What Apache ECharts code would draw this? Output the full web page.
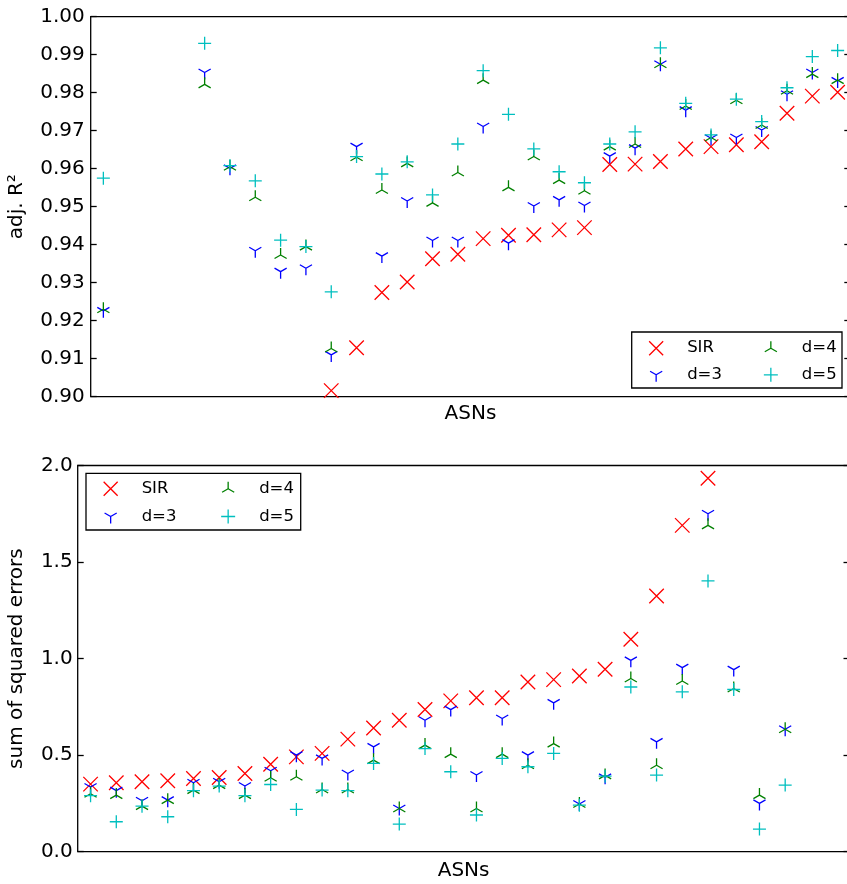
<!DOCTYPE html>
<html><head><meta charset="utf-8">
<script src="https://cdn.jsdelivr.net/npm/echarts@6/dist/echarts.min.js"></script>
<style>html,body{margin:0;padding:0;background:#fff}#c{width:847px;height:884px}</style>
</head><body><div id="c"></div>
<script>
// ---- data ----
const categories = [1,2,3,4,5,6,7,8,9,10,11,12,13,14,15,16,17,18,19,20,21,22,23,24,25,26,27,28,29,30];
const seriesNames = ['SIR', 'd=3', 'd=4', 'd=5'];

// top panel: adj. R² (null = outside the visible range)
const r2SIR = [null,null,null,null,null,null,null,null,null,0.9016,0.9129,0.9274,0.9302,0.9363,0.9375,0.9416,0.9425,0.9426,0.9439,0.9445,0.9611,0.9612,0.9619,0.9652,0.9658,0.9663,0.9671,0.9746,0.9791,0.9801];
const r2D3  = [0.9226,null,null,null,0.9853,0.9601,0.9384,0.9329,0.9338,0.9110,0.9658,0.9370,0.9515,0.9411,0.9411,0.9711,0.9404,0.9502,0.9518,0.9503,0.9633,0.9654,0.9875,0.9754,0.9680,0.9682,0.9702,0.9796,0.9853,0.9831];
const r2D4  = [0.9230,null,null,null,0.9822,0.9605,0.9525,0.9373,0.9395,0.9127,0.9630,0.9544,0.9614,0.9510,0.9590,0.9833,0.9551,0.9632,0.9570,0.9542,0.9658,0.9665,0.9875,0.9765,0.9682,0.9780,0.9715,0.9805,0.9849,0.9833];
const r2D5  = [0.9575,null,null,null,0.9930,0.9608,0.9568,0.9412,0.9395,0.9276,0.9632,0.9586,0.9618,0.9531,0.9665,0.9858,0.9743,0.9652,0.9592,0.9563,0.9665,0.9697,0.9918,0.9772,0.9689,0.9783,0.9724,0.9813,0.9895,0.9911];

// bottom panel: sum of squared errors
const sseSIR = [0.350,0.357,0.362,0.367,0.379,0.384,0.405,0.453,0.491,0.509,0.583,0.641,0.681,0.736,0.781,0.797,0.797,0.879,0.891,0.910,0.945,1.100,1.324,1.690,1.934,null,null,null,null,null];
const sseD3  = [0.335,0.316,0.264,0.267,0.357,0.362,0.340,0.419,0.500,0.483,0.405,0.543,0.224,0.681,0.736,0.397,0.690,0.500,0.771,0.247,0.385,0.991,0.569,0.953,1.750,0.943,0.250,0.634,null,null];
const sseD4  = [0.300,0.293,0.236,0.267,0.319,0.345,0.293,0.383,0.388,0.322,0.322,0.474,0.224,0.552,0.505,0.224,0.505,0.448,0.560,0.247,0.395,0.897,0.448,0.884,1.690,0.845,0.293,0.634,null,null];
const sseD5  = [0.290,0.155,0.236,0.181,0.316,0.340,0.290,0.348,0.219,0.319,0.316,0.457,0.143,0.534,0.414,0.190,0.483,0.440,0.509,0.241,0.391,0.853,0.397,0.828,1.402,0.840,0.117,0.345,null,null];

// axis ticks
const r2Ticks  = [0.90,0.91,0.92,0.93,0.94,0.95,0.96,0.97,0.98,0.99,1.00];
const sseTicks = [0.0,0.5,1.0,1.5,2.0];

// ---- styling ----
const FONT = 'DejaVu Sans';
const colors = {'SIR':'#ff0000','d=3':'#0000ff','d=4':'#008000','d=5':'#00bfbf'};
const symbols = {
  'SIR': 'path://M-1 -1L1 1M-1 1L1 -1',
  'd=3': 'path://M-1 -1M1 1M0 0L0 1M0 0L0.866 -0.5M0 0L-0.866 -0.5',
  'd=4': 'path://M-1 -1M1 1M0 0L0 -1M0 0L0.866 0.5M0 0L-0.866 0.5',
  'd=5': 'path://M-1 0L1 0M0 -1L0 1'
};
const sizes = {'SIR':14.5,'d=3':14,'d=4':14,'d=5':13};

function mk(name, arr, xi, yi) {
  return {
    type:'scatter', name, xAxisIndex:xi, yAxisIndex:yi,
    symbol: symbols[name], symbolSize: sizes[name],
    itemStyle:{color:colors[name], borderColor:colors[name], borderWidth:1.3, opacity:1},
    emphasis:{disabled:true}, silent:true, animation:false,
    data: arr.map(v => v == null ? '-' : v)
  };
}

function xAx(gi, gap) {
  return {type:'category', gridIndex:gi, data:categories, boundaryGap:true,
    axisLabel:{show:false}, axisTick:{show:false}, axisLine:{show:false}, splitLine:{show:false},
    name:'ASNs', nameLocation:'middle', nameGap:gap,
    nameTextStyle:{fontFamily:FONT, fontSize:20, color:'#000'}};
}
function yAx(gi, ticks, pos, dec, name, gap, margin) {
  const o = {type:'value', gridIndex:gi, position:pos,
    min:ticks[0], max:ticks[ticks.length-1], interval:ticks[1]-ticks[0],
    axisLine:{show:false}, splitLine:{show:false},
    axisTick:{show:true, inside:true, length:6, lineStyle:{color:'#000', width:1.3}},
    axisLabel:{show: pos==='left', margin:margin, fontFamily:FONT, fontSize:20, color:'#000',
      formatter: v => Number(v).toFixed(dec)}};
  if (name) {
    o.name = name; o.nameLocation = 'middle'; o.nameGap = gap;
    o.nameTextStyle = {fontFamily:FONT, fontSize:20, color:'#000'};
  }
  return o;
}
function legend(names, left, top, gap) {
  return {data:names, orient:'vertical', left:left, top:top, itemWidth:52, itemHeight:14, itemGap:gap,
    selectedMode:false, padding:0,
    itemStyle:{borderWidth:1.3},
    textStyle:{fontFamily:FONT, fontSize:16.5, color:'#000', lineHeight:16}};
}

const chart = echarts.init(document.getElementById('c'), null, {renderer:'canvas'});
chart.setOption({
  animation:false,
  backgroundColor:'#fff',
  grid:[
    {left:90.7, top:16.7, right:-3.3, bottom:884-396.7, show:true, borderColor:'#000', borderWidth:1.3, backgroundColor:'transparent', outerBoundsMode:'none', containLabel:false},
    {left:77.7, top:465.5, right:-2.5, bottom:884-851.7, show:true, borderColor:'#000', borderWidth:1.3, backgroundColor:'transparent', outerBoundsMode:'none', containLabel:false}
  ],
  xAxis:[xAx(0, 7), xAx(1, 9)],
  yAxis:[
    yAx(0, r2Ticks, 'left', 2, 'adj. R²', 64, 6),
    yAx(0, r2Ticks, 'right', 2, null, 0, 6),
    yAx(1, sseTicks, 'left', 1, 'sum of squared errors', 51, 5),
    yAx(1, sseTicks, 'right', 1, null, 0, 5)
  ],
  legend:[
    legend(['SIR','d=3'], 648.5, 339.7, 9.6),
    legend(['d=4','d=5'], 763.2, 339.7, 9.6),
    legend(['SIR','d=3'], 103, 480.3, 10.7),
    legend(['d=4','d=5'], 220.5, 480.3, 10.7)
  ],
  graphic:[
    {type:'rect', z:3, shape:{x:631.7, y:332, width:210.3, height:56}, style:{fill:'#fff', stroke:'#000', lineWidth:1.3}, silent:true},
    {type:'rect', z:3, shape:{x:86, y:473.3, width:214.7, height:56.7}, style:{fill:'#fff', stroke:'#000', lineWidth:1.3}, silent:true}
  ],
  series:[
    mk('SIR', r2SIR, 0, 0), mk('d=3', r2D3, 0, 0), mk('d=4', r2D4, 0, 0), mk('d=5', r2D5, 0, 0),
    mk('SIR', sseSIR, 1, 2), mk('d=3', sseD3, 1, 2), mk('d=4', sseD4, 1, 2), mk('d=5', sseD5, 1, 2)
  ]
});
</script></body></html>
